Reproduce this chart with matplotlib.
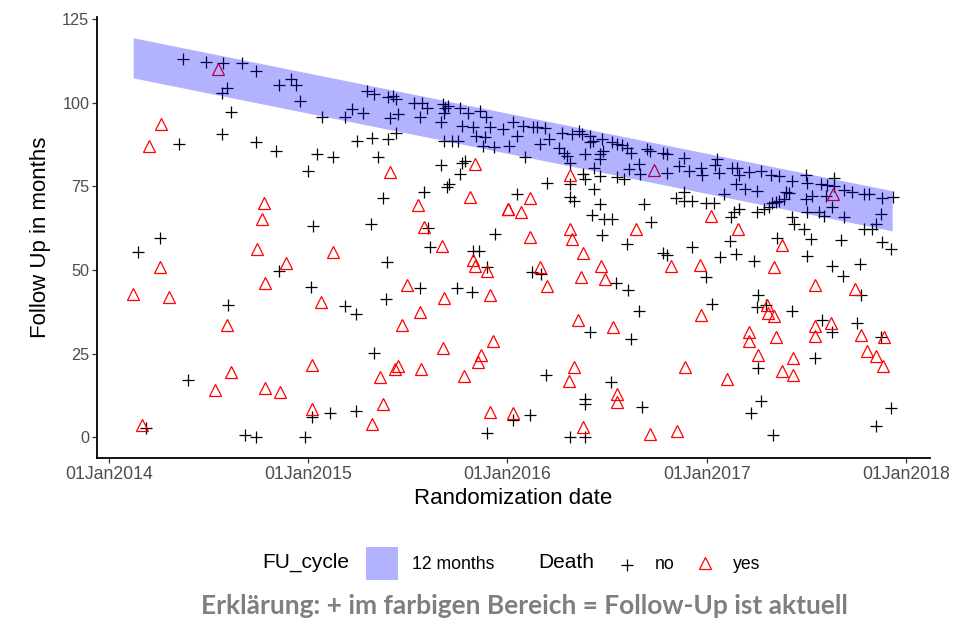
import matplotlib
matplotlib.use("Agg")
import matplotlib.pyplot as plt
import matplotlib.dates as mdates
from matplotlib.patches import Rectangle
from matplotlib.lines import Line2D
from datetime import datetime, timedelta

# randomization date (decimal year) and follow up in months, patients alive
alive_date = [
    2014.372, 2014.486, 2014.573, 2014.665, 2014.737, 2014.854, 2014.911, 2014.936, 2014.958, 2014.590,
    2014.565, 2014.612, 2014.565, 2014.735, 2014.839, 2014.352, 2015.000,
    2014.255, 2014.146, 2014.854, 2014.594, 2014.394, 2014.182, 2014.682, 2014.735, 2014.983,
    2015.025, 2015.315, 2015.603, 2015.938, 2015.612, 2015.829, 2015.859, 2015.896, 2015.393, 2015.012,
    2015.184, 2015.240, 2015.390, 2015.561, 2015.745, 2015.821, 2015.332, 2015.017, 2015.106, 2015.240,
    2015.898,
    2015.293, 2015.332, 2015.399, 2015.424, 2015.441, 2015.528, 2015.573, 2015.595, 2015.678, 2015.686,
    2015.703, 2015.762, 2015.804, 2015.863, 2015.891, 2015.218, 2015.184, 2015.276, 2015.410, 2015.452,
    2015.561, 2015.666, 2015.681, 2015.770, 2015.826, 2015.842, 2015.888, 2015.913, 2015.879, 2015.930,
    2015.980, 2016.009, 2015.067, 2015.243, 2015.322, 2015.399, 2015.439, 2015.042, 2015.122, 2015.352,
    2015.681, 2015.720, 2015.754, 2015.665, 2015.770, 2015.787, 2015.762, 2015.707, 2015.695, 2015.583,
    2015.377,
    2016.030, 2016.080, 2016.127, 2016.147, 2016.189, 2016.047, 2016.164, 2016.206, 2016.273, 2016.323,
    2016.357, 2016.374, 2016.416, 2016.429, 2016.474, 2016.525, 2016.550, 2016.575, 2016.597, 2016.620,
    2016.701, 2016.714, 2016.781, 2016.801, 2016.884, 2017.052, 2016.256, 2016.281, 2016.298, 2016.390,
    2016.413, 2016.466, 2016.479, 2016.462, 2016.315, 2016.089, 2016.432, 2016.466, 2016.608, 2016.658,
    2016.666, 2016.797, 2016.859, 2016.910, 2016.968, 2016.976, 2017.039, 2016.377, 2016.390, 2016.315,
    2016.197, 2016.550, 2016.583, 2016.436, 2016.047, 2016.315, 2016.332, 2016.466, 2016.424, 2016.482,
    2016.525, 2016.683, 2016.717, 2016.842, 2016.884, 2016.884, 2016.926, 2016.993, 2017.035,
    2017.060, 2017.127, 2017.152, 2017.161, 2017.211, 2017.270, 2017.320, 2017.362, 2017.429, 2017.496,
    2017.504, 2017.571, 2017.604, 2017.638, 2017.638, 2017.688, 2017.730, 2017.789, 2017.814, 2017.881,
    2017.932, 2017.144, 2017.191, 2017.253, 2017.085, 2017.395, 2017.412, 2017.387, 2017.362, 2017.328,
    2017.345, 2017.496, 2017.529, 2017.596, 2017.286, 2017.312, 2017.504, 2017.563, 2017.588, 2017.630,
    2017.688, 2017.136, 2017.161, 2017.119, 2017.253, 2017.429, 2017.437, 2017.487, 2017.873, 2017.848,
    2017.789, 2017.831,
    2016.474, 2016.600, 2016.781, 2016.797, 2016.926, 2016.993, 2016.122, 2016.167, 2016.546, 2016.603,
    2016.658, 2017.023, 2016.412, 2016.617, 2016.193, 2016.521, 2016.387, 2016.387, 2016.675, 2016.315,
    2016.387, 2016.114, 2016.027,
    2017.114, 2017.353, 2017.521, 2017.671, 2017.881, 2017.923, 2017.067, 2017.147, 2017.236, 2017.501,
    2017.627, 2017.768, 2017.683, 2017.775, 2017.258, 2017.253, 2017.298, 2017.425, 2017.579, 2017.626,
    2017.755, 2017.873, 2017.258, 2017.543, 2017.270, 2017.220, 2017.332, 2017.926, 2017.848,
]
alive_fu = [
    113.0, 112.3, 112.0, 112.0, 109.5, 105.3, 107.0, 105.3, 100.5, 104.3,
    103.0, 97.3, 90.6, 88.1, 85.6, 87.6, 79.6,
    59.5, 55.3, 49.8, 39.6, 17.0, 2.9, 0.8, 0.1, 0.1,
    63.2, 63.7, 62.6, 60.8, 56.8, 55.8, 55.8, 50.8, 52.3, 44.8,
    39.1, 36.9, 41.2, 44.5, 44.7, 43.3, 25.2, 6.1, 7.1, 7.9,
    1.4,
    103.5, 102.5, 101.7, 102.0, 101.0, 100.0, 100.0, 98.3, 99.5, 98.5,
    99.0, 98.5, 97.0, 97.6, 95.8, 98.1, 95.8, 97.0, 95.4, 96.6,
    95.6, 94.1, 97.0, 93.1, 92.6, 90.1, 89.6, 92.6, 87.1, 86.8,
    92.1, 87.1, 95.6, 88.6, 89.3, 89.1, 90.8, 84.6, 83.8, 83.8,
    88.6, 88.6, 88.6, 81.4, 82.1, 82.6, 78.7, 75.7, 74.7, 73.2,
    71.5,
    94.1, 93.1, 92.8, 92.6, 92.4, 90.1, 87.6, 89.1, 90.8, 90.6,
    91.6, 90.6, 90.1, 88.6, 89.1, 88.1, 87.6, 87.4, 86.6, 85.1,
    86.1, 85.6, 85.1, 84.6, 83.6, 83.1, 86.6, 85.1, 84.1, 84.6,
    88.1, 84.6, 85.6, 83.1, 82.1, 83.8, 80.6, 78.2, 80.2, 81.6,
    78.7, 79.0, 81.1, 79.7, 80.6, 78.4, 81.4, 78.7, 77.2, 75.7,
    76.0, 77.7, 77.2, 74.2, 72.7, 71.9, 70.5, 69.7, 66.5, 65.2,
    65.2, 69.7, 64.2, 71.5, 73.2, 70.5, 70.5, 69.9, 69.9,
    79.1, 80.6, 80.6, 78.5, 79.4, 79.7, 78.5, 78.2, 76.7, 78.5,
    75.9, 75.7, 75.5, 77.5, 75.2, 73.9, 73.2, 72.7, 72.7, 71.5,
    71.9, 75.7, 74.2, 73.5, 72.7, 73.2, 72.9, 71.2, 70.7, 69.9,
    70.2, 71.2, 72.2, 72.2, 68.2, 68.7, 67.2, 67.2, 66.2, 68.7,
    65.7, 67.2, 68.2, 65.9, 67.2, 65.7, 63.7, 62.3, 66.7, 63.7,
    62.3, 62.3,
    60.5, 57.8, 55.1, 54.5, 56.8, 47.8, 49.5, 48.8, 46.1, 43.9,
    37.6, 39.9, 31.6, 29.4, 18.7, 16.5, 11.5, 9.8, 9.0, 0.1,
    0.0, 6.6, 5.1,
    58.8, 59.6, 59.3, 59.1, 58.3, 56.3, 53.8, 54.8, 52.8, 54.3,
    51.3, 51.8, 48.3, 42.4, 42.4, 38.9, 39.4, 37.6, 34.9, 31.4,
    34.1, 29.9, 20.7, 23.8, 10.7, 7.1, 0.6, 8.6, 3.3,
]

# patients who died
dead_date = [
    2014.548, 2014.260, 2014.201, 2014.779, 2014.765, 2014.744, 2014.888, 2014.255, 2014.784, 2014.121,
    2014.300, 2014.590, 2014.612, 2014.533, 2014.784, 2014.859, 2014.166,
    2015.583, 2015.126, 2015.673, 2015.829, 2015.837, 2015.899, 2015.064, 2015.497, 2015.563, 2015.469,
    2015.680, 2015.911, 2015.928, 2015.868, 2015.854, 2015.675, 2015.020, 2015.452, 2015.436, 2015.362,
    2015.565, 2015.784, 2015.373, 2015.318, 2015.017, 2015.911,
    2015.837, 2015.410, 2015.553, 2015.814, 2016.002,
    2016.734, 2016.315, 2016.111, 2016.005, 2016.069, 2016.315, 2016.642, 2017.018, 2017.157,
    2016.112, 2016.323, 2016.377, 2016.817, 2016.965, 2016.164, 2016.197, 2016.370, 2016.471, 2016.491,
    2016.968, 2016.352, 2016.528, 2016.332, 2016.310, 2016.891, 2016.550, 2016.550, 2016.377, 2016.712,
    2016.848, 2016.030,
    2017.633, 2017.375, 2017.337, 2017.543, 2017.742, 2017.303, 2017.308, 2017.337, 2017.621, 2017.543,
    2017.543, 2017.772, 2017.889, 2017.209, 2017.211, 2017.345, 2017.258, 2017.432, 2017.375, 2017.432,
    2017.805, 2017.848, 2017.884, 2017.099,
]
dead_fu = [
    110.0, 93.6, 87.1, 70.0, 65.2, 56.3, 52.0, 50.8, 46.0, 42.9,
    41.9, 33.4, 19.5, 14.0, 14.8, 13.5, 3.6,
    62.9, 55.3, 57.1, 53.0, 51.3, 49.6, 40.4, 45.6, 37.4, 33.4,
    41.6, 42.6, 28.9, 24.7, 22.5, 26.8, 21.5, 21.3, 20.3, 18.0,
    20.3, 18.2, 9.8, 3.9, 8.4, 7.6,
    81.7, 79.4, 69.4, 71.7, 68.2,
    79.9, 78.5, 71.5, 68.2, 67.2, 62.3, 62.3, 66.2, 62.3,
    59.8, 59.3, 55.1, 51.1, 51.5, 50.8, 45.3, 47.8, 51.1, 47.3,
    36.6, 34.9, 32.9, 21.0, 16.7, 21.0, 13.0, 10.5, 3.1, 1.1,
    1.8, 7.1,
    72.7, 57.6, 50.8, 45.6, 44.4, 39.4, 37.2, 36.2, 34.1, 33.2,
    30.4, 30.6, 29.9, 31.6, 28.7, 30.1, 24.5, 23.7, 19.7, 18.5,
    25.7, 24.2, 21.2, 17.5,
]

# 12 months follow-up cycle band
band_date = [2014.12, 2017.93]
band_upper = [119.4, 73.7]
band_lower = [107.4, 61.7]

y_ticks = [0, 25, 50, 75, 100, 125]
x_tick_years = [2014, 2015, 2016, 2017, 2018]


def to_date(y):
    yr = int(y)
    start = datetime(yr, 1, 1)
    days = (datetime(yr + 1, 1, 1) - start).days
    return start + timedelta(days=(y - yr) * days)


plt.rcParams["font.family"] = ["Liberation Sans", "DejaVu Sans"]

fig = plt.figure(figsize=(9.73, 6.23), dpi=100)
ax = fig.add_axes([0.0997, 0.2649, 0.8561, 0.7083])

ax.plot([to_date(d) for d in alive_date], alive_fu, linestyle="none", marker="+",
        markersize=9, markeredgewidth=0.9, color="black", zorder=2)
ax.plot([to_date(d) for d in dead_date], dead_fu, linestyle="none", marker="^",
        markersize=8, markeredgewidth=0.9, markerfacecolor="none",
        markeredgecolor="red", zorder=2)

# band drawn over the points with transparency, like the original
ax.fill_between([to_date(d) for d in band_date], band_lower, band_upper,
                color="blue", alpha=0.3, linewidth=0, zorder=3)

ax.set_xlim(to_date(2013.938), to_date(2018.12))
ax.set_ylim(-6.2, 125.7)
ax.set_yticks(y_ticks)
ax.set_xticks([datetime(y, 1, 1) for y in x_tick_years])
ax.xaxis.set_major_formatter(mdates.DateFormatter("%d%b%Y"))

for s in ["top", "right"]:
    ax.spines[s].set_visible(False)
for s in ["left", "bottom"]:
    ax.spines[s].set_linewidth(1.3)
    ax.spines[s].set_color("black")

ax.tick_params(axis="both", length=3.5, width=0.9, color="#333333")
ax.tick_params(axis="y", labelsize=11.7, labelcolor="#4d4d4d", pad=2)
ax.tick_params(axis="x", labelsize=12.7, labelcolor="#4d4d4d", pad=2)

ax.set_xlabel("Randomization date", fontsize=16, labelpad=4)
ax.set_ylabel("Follow Up in months", fontsize=16, labelpad=8)

# legend drawn by hand
fig.text(262 / 973, 1 - 567.7 / 623, "FU_cycle", fontsize=15, va="baseline")
fig.patches.append(Rectangle((366 / 973, 1 - 580 / 623), 32 / 973, 33 / 623,
                             transform=fig.transFigure, facecolor="blue",
                             alpha=0.3, linewidth=0))
fig.text(412 / 973, 1 - 569 / 623, "12 months", fontsize=12.7, va="baseline")
fig.text(538 / 973, 1 - 568 / 623, "Death", fontsize=15, va="baseline")
fig.lines.append(Line2D([626.7 / 973], [1 - 565 / 623], transform=fig.transFigure,
                        marker="+", markersize=9, markeredgewidth=0.9,
                        color="black", linestyle="none"))
fig.text(655 / 973, 1 - 569 / 623, "no", fontsize=12.7, va="baseline")
fig.lines.append(Line2D([705 / 973], [1 - 563 / 623], transform=fig.transFigure,
                        marker="^", markersize=8, markeredgewidth=0.9,
                        markerfacecolor="none", markeredgecolor="red",
                        linestyle="none"))
fig.text(733 / 973, 1 - 569 / 623, "yes", fontsize=12.7, va="baseline")

fig.text(524 / 973, 1 - 614 / 623,
         "Erklärung: + im farbigen Bereich = Follow-Up ist aktuell",
         fontsize=19, fontweight="bold", color="#7f7f7f", ha="center",
         va="baseline", family=["Lato", "DejaVu Sans"])

fig.savefig("out.png", dpi=100)
